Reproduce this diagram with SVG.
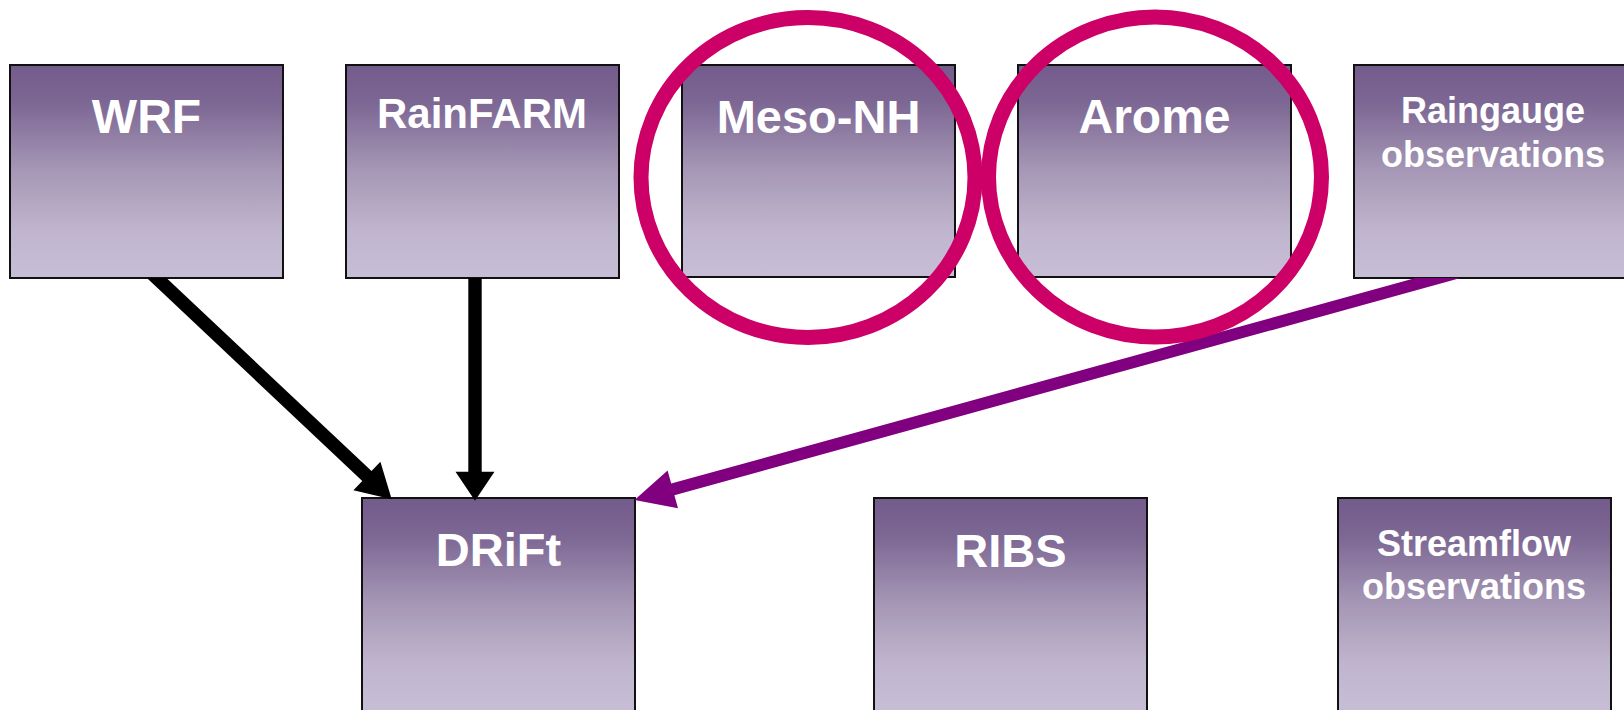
<svg xmlns="http://www.w3.org/2000/svg" width="1624" height="710" viewBox="0 0 1624 710">
<defs>
<linearGradient id="g" x1="0" y1="0" x2="0" y2="1">
<stop offset="0" stop-color="#735B8B"/>
<stop offset="0.18" stop-color="#7D6794"/>
<stop offset="0.5" stop-color="#A698B6"/>
<stop offset="0.78" stop-color="#C0B5CE"/>
<stop offset="1" stop-color="#C7BED6"/>
</linearGradient>
<style>
.box{fill:url(#g);stroke:#111;stroke-width:2}
.t{font-family:"Liberation Sans",Arial,sans-serif;font-weight:bold;fill:#fff;text-anchor:middle}
.ring{fill:none;stroke:#CC0066;stroke-width:15}
</style>
</defs>
<rect width="1624" height="710" fill="#fff"/>
<g id="WRF"><rect class="box" x="10" y="65" width="273" height="213"/><text class="t" x="146.5" y="133" font-size="48">WRF</text></g>
<g id="RainFARM"><rect class="box" x="346" y="65" width="273" height="213"/><text class="t" x="482" y="128" font-size="42">RainFARM</text></g>
<g id="MesoNH"><rect class="box" x="682" y="65" width="273" height="212"/><text class="t" x="818.5" y="133" font-size="47">Meso-NH</text></g>
<g id="Arome"><rect class="box" x="1018" y="65" width="273" height="212"/><text class="t" x="1154.5" y="133" font-size="48">Arome</text></g>
<g id="Raingauge"><rect class="box" x="1354" y="65" width="273" height="213"/><text class="t" x="1493" y="123" font-size="36">Raingauge</text><text class="t" x="1493" y="167" font-size="36">observations</text></g>
<g id="DRiFt"><rect class="box" x="362" y="498" width="273" height="214"/><text class="t" x="498.5" y="566" font-size="47">DRiFt</text></g>
<g id="RIBS"><rect class="box" x="874" y="498" width="273" height="214"/><text class="t" x="1010.5" y="567" font-size="47">RIBS</text></g>
<g id="Streamflow"><rect class="box" x="1338" y="498" width="273" height="214"/><text class="t" x="1474" y="556" font-size="36">Streamflow</text><text class="t" x="1474" y="599" font-size="36">observations</text></g>
<g id="connectors">
<path fill="#000" d="M146.9,278 L166.5,278 L371.5,471.1 L380.4,461.7 L391.7,499.3 L353.4,490.3 L362.3,480.9 Z"/>
<path fill="#000" d="M468.3,278 L481.7,278 L481.7,471.7 L494.5,471.7 L475,500.7 L455.5,471.7 L468.3,471.7 Z"/>
<path fill="#800080" d="M1415.5,278 L1460.5,278 L674.4,495.2 L678,508.2 L634.5,500 L667.6,470.6 L671.2,483.6 Z"/>
</g>
<g id="highlights">
<ellipse class="ring" cx="808" cy="177.5" rx="167" ry="160"/>
<ellipse class="ring" cx="1155" cy="177" rx="166.5" ry="160"/>
</g>
</svg>
